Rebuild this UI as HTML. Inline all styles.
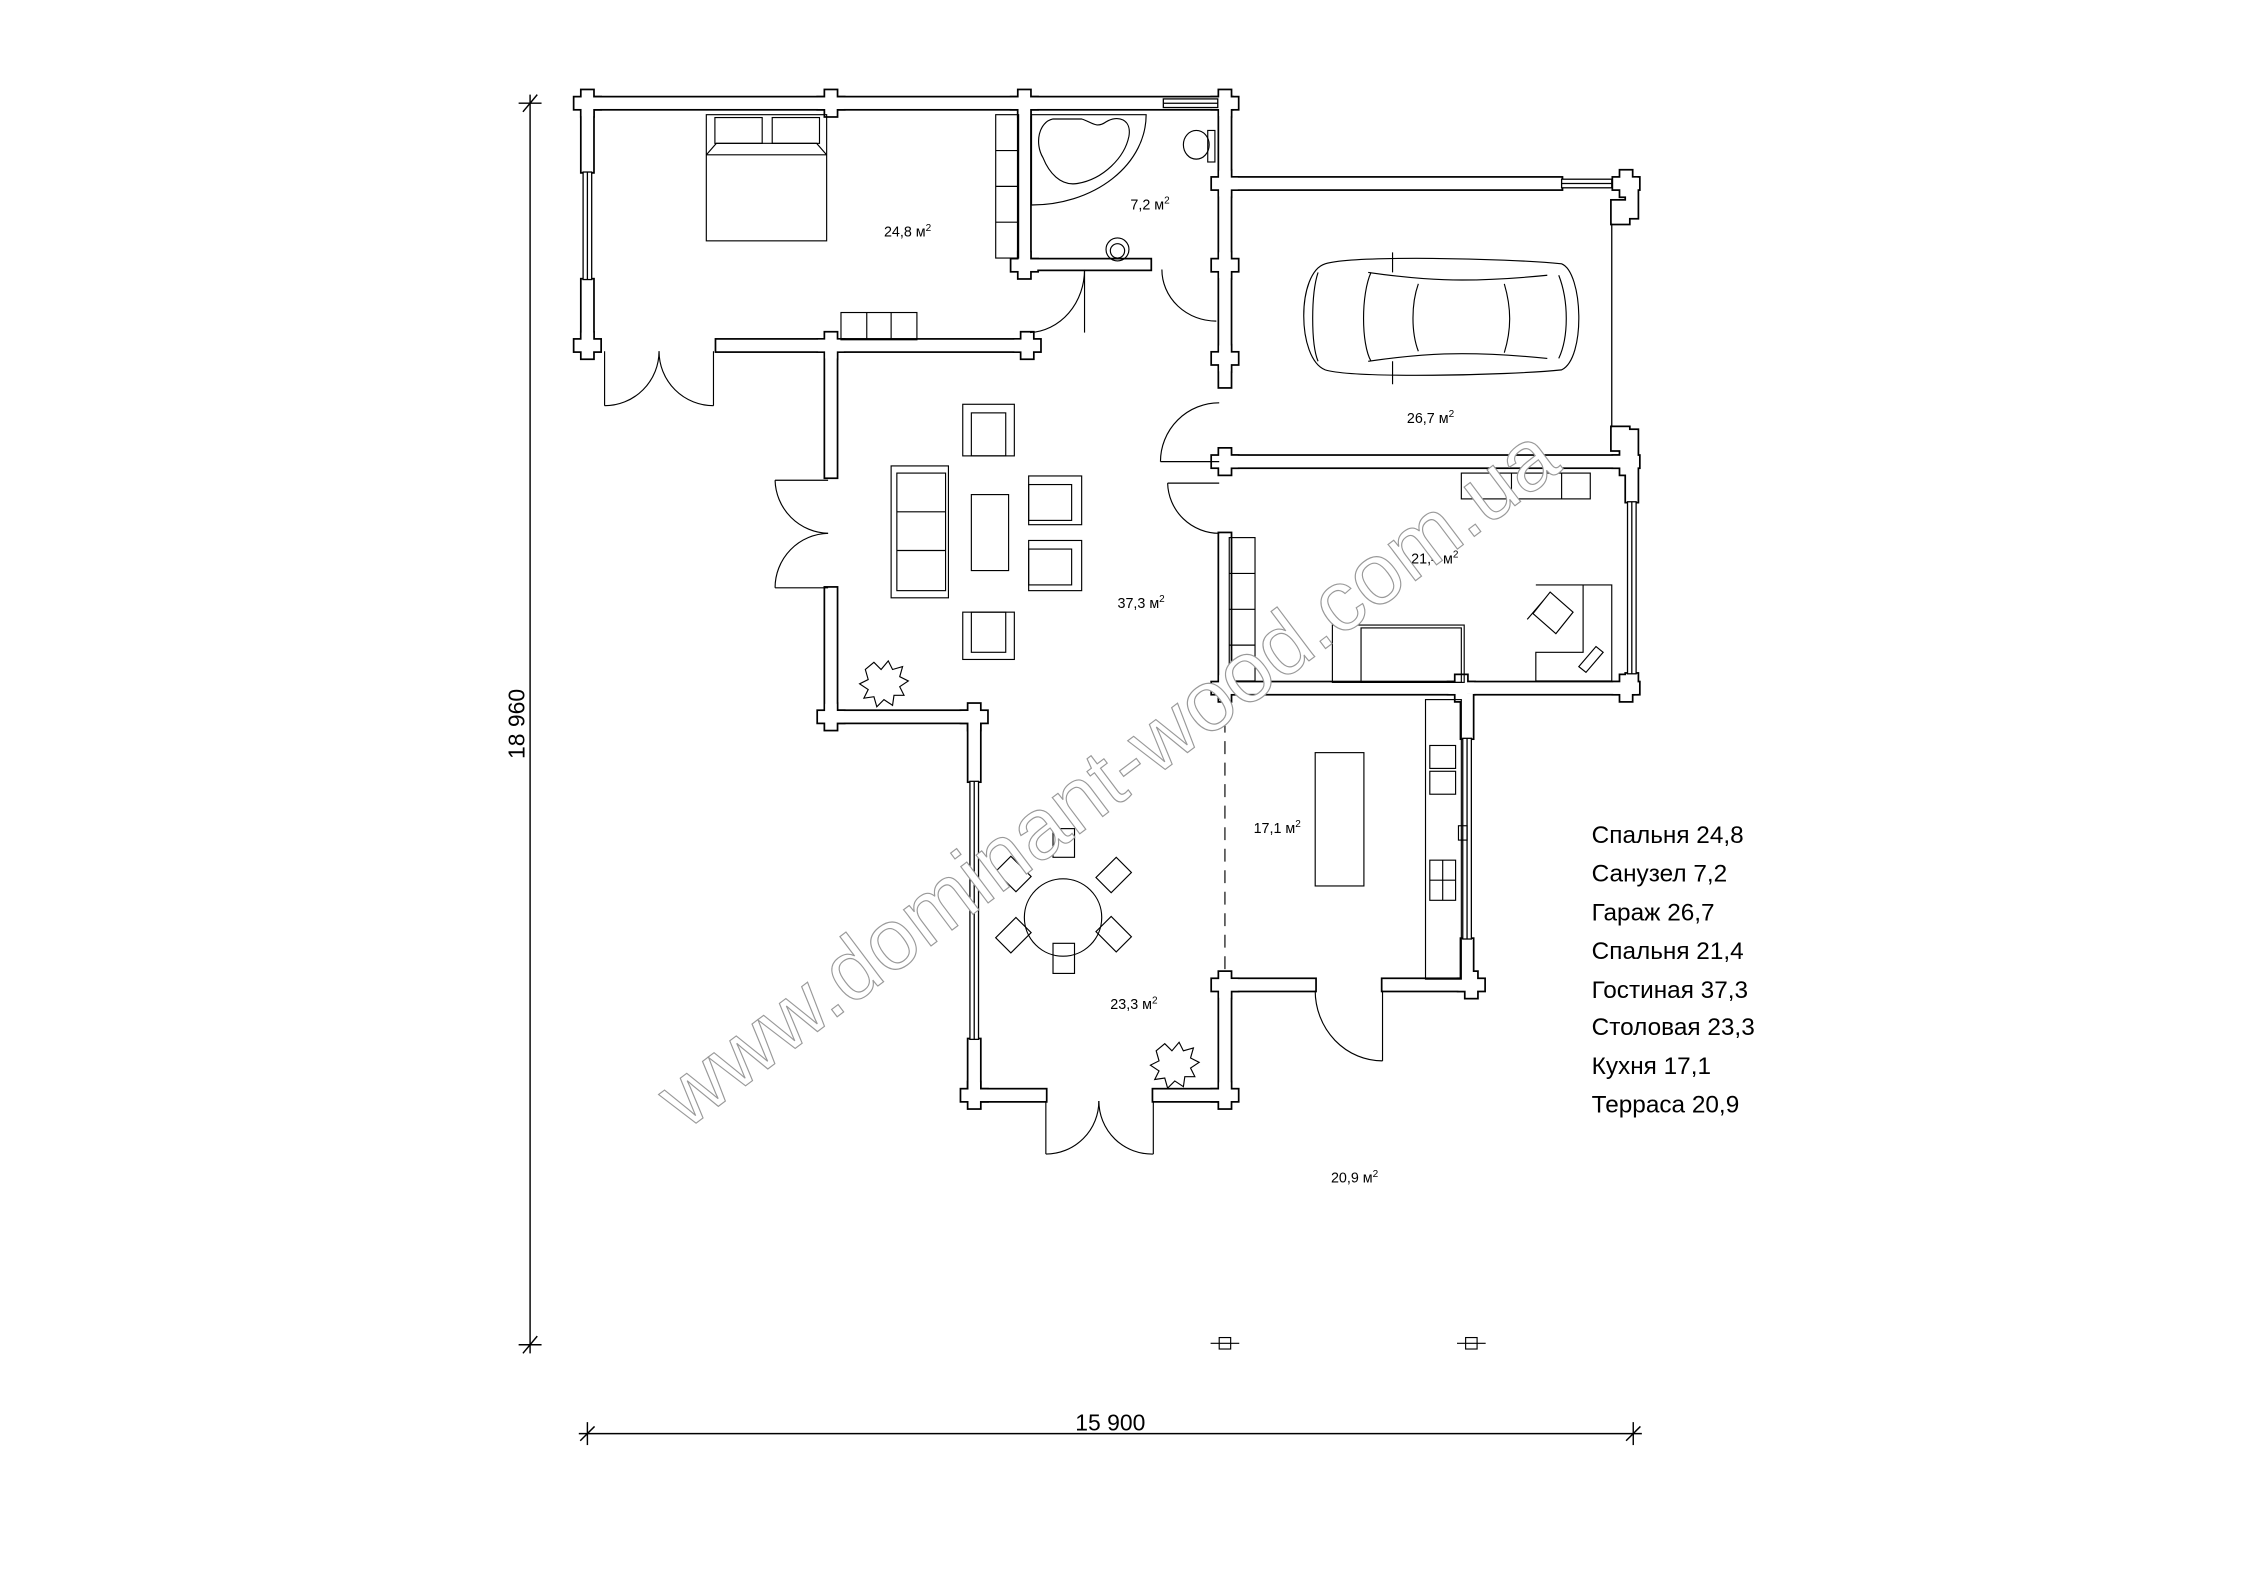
<!DOCTYPE html>
<html><head><meta charset="utf-8"><style>
html,body{margin:0;padding:0;background:#fff}
svg{display:block}
text{font-family:"Liberation Sans",sans-serif}
</style></head><body>
<svg width="2245" height="1587" viewBox="0 0 1567 1107" preserveAspectRatio="none" xmlns="http://www.w3.org/2000/svg" xmlns:xlink="http://www.w3.org/1999/xlink">
<defs>
<g id="cr"><rect x="-9" y="-4" width="18" height="8"/><rect x="-4" y="-9" width="8" height="18"/></g>
<g id="w">
<rect x="406" y="68" width="454" height="8"/>
<rect x="406" y="72" width="8" height="48"/><rect x="406" y="195" width="8" height="50"/>
<rect x="500" y="237" width="220" height="8"/>
<rect x="711" y="72" width="8" height="115"/><rect x="715" y="181" width="88" height="7"/>
<rect x="851" y="72" width="8" height="198"/>
<rect x="855" y="124" width="235" height="8"/>
<rect x="851" y="318" width="289" height="8"/>
<rect x="851" y="372" width="8" height="112"/>
<rect x="851" y="476" width="289" height="8"/>
<rect x="1135" y="124" width="8" height="28"/><rect x="1125" y="140" width="12" height="16"/>
<rect x="1135" y="300" width="8" height="50"/><rect x="1125" y="298" width="12" height="16"/>
<rect x="1135" y="470" width="8" height="14"/>
<rect x="576" y="241" width="8" height="92"/><rect x="576" y="410" width="8" height="94"/>
<rect x="576" y="496" width="108" height="8"/>
<rect x="676" y="500" width="8" height="45"/><rect x="676" y="725" width="8" height="41"/>
<rect x="676" y="760" width="54" height="8"/><rect x="805" y="760" width="54" height="8"/>
<rect x="851" y="685" width="8" height="80"/>
<rect x="855" y="683" width="63" height="8"/><rect x="965" y="683" width="63" height="8"/>
<rect x="1020" y="484" width="8" height="31"/><rect x="1020" y="655" width="8" height="32"/>
<use xlink:href="#cr" href="#cr" x="410" y="72"/><use xlink:href="#cr" href="#cr" x="580" y="72"/>
<use xlink:href="#cr" href="#cr" x="715" y="72"/><use xlink:href="#cr" href="#cr" x="855" y="72"/>
<use xlink:href="#cr" href="#cr" x="410" y="241"/><use xlink:href="#cr" href="#cr" x="580" y="241"/>
<use xlink:href="#cr" href="#cr" x="717" y="241"/><use xlink:href="#cr" href="#cr" x="715" y="185"/>
<use xlink:href="#cr" href="#cr" x="855" y="128"/><use xlink:href="#cr" href="#cr" x="855" y="185"/>
<use xlink:href="#cr" href="#cr" x="1135" y="128"/><use xlink:href="#cr" href="#cr" x="855" y="322"/>
<use xlink:href="#cr" href="#cr" x="1135" y="322"/><use xlink:href="#cr" href="#cr" x="855" y="480"/>
<use xlink:href="#cr" href="#cr" x="1020" y="480"/><use xlink:href="#cr" href="#cr" x="1135" y="480"/>
<use xlink:href="#cr" href="#cr" x="580" y="500"/><use xlink:href="#cr" href="#cr" x="680" y="500"/>
<use xlink:href="#cr" href="#cr" x="680" y="764"/><use xlink:href="#cr" href="#cr" x="855" y="764"/>
<use xlink:href="#cr" href="#cr" x="855" y="687"/><use xlink:href="#cr" href="#cr" x="1027" y="687"/>
<use xlink:href="#cr" href="#cr" x="855" y="250"/>
</g>
</defs>
<rect width="1567" height="1107" fill="#fff"/>
<g stroke="#000" stroke-width="1" fill="none">
<line x1="370" y1="66" x2="370" y2="944"/>
<line x1="362" y1="72" x2="378" y2="72"/><line x1="365" y1="78" x2="375" y2="66"/>
<line x1="362" y1="938" x2="378" y2="938"/><line x1="365" y1="944" x2="375" y2="932"/>
<line x1="404" y1="1000" x2="1146" y2="1000"/>
<line x1="410" y1="992" x2="410" y2="1008"/><line x1="405" y1="1005" x2="415" y2="995"/>
<line x1="1140" y1="992" x2="1140" y2="1008"/><line x1="1135" y1="1005" x2="1145" y2="995"/>
</g>
<text x="0" y="0" font-size="16" transform="translate(366,505) rotate(-90)" text-anchor="middle">18 960</text>
<text x="775" y="998" font-size="16" text-anchor="middle">15 900</text>

<use xlink:href="#w" href="#w" stroke="#000" stroke-width="2.4" fill="#000"/>
<use xlink:href="#w" href="#w" stroke="none" fill="#fff"/>

<g stroke="#000" stroke-width="0.9" fill="#fff">
<rect x="407" y="120" width="6" height="75"/><line x1="410" y1="120" x2="410" y2="195"/>
<rect x="1090" y="125" width="35" height="6"/><line x1="1090" y1="128" x2="1125" y2="128"/>
<rect x="812" y="69" width="38" height="6"/><line x1="812" y1="72" x2="850" y2="72"/>
<rect x="1136" y="350" width="6" height="120"/><line x1="1139" y1="350" x2="1139" y2="470"/>
<rect x="677" y="545" width="6" height="180"/><line x1="680" y1="545" x2="680" y2="725"/>
<rect x="1021" y="515" width="6" height="140"/><line x1="1024" y1="515" x2="1024" y2="655"/>
<line x1="1125" y1="156" x2="1125" y2="298" fill="none"/>
</g>
<g stroke="#000" stroke-width="0.8" fill="none">
<line x1="422" y1="245" x2="422" y2="283"/><path d="M422,283 A38,38 0 0,0 460,245"/>
<line x1="498" y1="245" x2="498" y2="283"/><path d="M498,283 A38,38 0 0,1 460,245"/>
<line x1="757" y1="188" x2="757" y2="232"/><path d="M757,188 A40,44 0 0,1 719,232"/>
<path d="M811,188 A38,36 0 0,0 849,224"/>
<line x1="810" y1="322" x2="851" y2="322"/><path d="M810,322 A41,41 0 0,1 851,281"/>
<line x1="815" y1="337" x2="851" y2="337"/><path d="M815,337 A36,36 0 0,0 851,372"/>
<line x1="541" y1="335" x2="578" y2="335"/><path d="M541,335 A38,38 0 0,0 578,372"/>
<line x1="541" y1="410" x2="578" y2="410"/><path d="M541,410 A38,38 0 0,1 578,372"/>
<line x1="730" y1="768" x2="730" y2="805"/><path d="M730,805 A37,37 0 0,0 767,768"/>
<line x1="805" y1="768" x2="805" y2="805"/><path d="M805,805 A37,37 0 0,1 767,768"/>
<line x1="965" y1="691" x2="965" y2="740"/><path d="M918,691 A47,49 0 0,0 965,740"/>
<line x1="855" y1="502" x2="855" y2="682" stroke-dasharray="9,6"/>
<rect x="851" y="933" width="8" height="8"/><line x1="845" y1="937" x2="865" y2="937"/>
<rect x="1023" y="933" width="8" height="8"/><line x1="1017" y1="937" x2="1037" y2="937"/>
<rect x="493" y="80" width="84" height="88"/>
<rect x="499" y="82" width="33" height="18"/><rect x="539" y="82" width="33" height="18"/>
<path d="M493,108 L500,100 L570,100 L577,108"/><line x1="493" y1="108" x2="577" y2="108"/>
<rect x="695" y="80" width="16" height="100"/><line x1="695" y1="105" x2="711" y2="105"/><line x1="695" y1="130" x2="711" y2="130"/><line x1="695" y1="155" x2="711" y2="155"/>
<rect x="587" y="218" width="53" height="19"/><line x1="605" y1="218" x2="605" y2="237"/><line x1="622" y1="218" x2="622" y2="237"/>
<path d="M720,80 L800,80 A80,63 0 0,1 720,143 Z"/>
<path d="M735,83 C725,85 722,100 728,110 C732,120 740,130 752,128 C770,125 785,110 788,95 C790,83 780,80 772,85 C765,90 762,85 755,83 Z"/>
<ellipse cx="835" cy="101" rx="9" ry="10"/><rect x="843" y="91" width="5" height="22"/>
<ellipse cx="780" cy="174" rx="8" ry="8"/><ellipse cx="780" cy="175" rx="5" ry="5"/>
<path d="M925,184 C945,178 1050,180 1090,184 C1105,190 1107,250 1090,258 C1050,262 945,264 925,258 C905,250 905,190 925,184 Z"/>
<path d="M955,190 C990,195 1020,198 1080,192 M955,252 C990,247 1020,244 1080,250"/>
<path d="M957,190 C950,205 950,240 957,252 M990,198 C985,212 985,232 990,245 M1050,198 C1055,215 1055,230 1050,246 M1088,192 C1095,210 1095,235 1088,250"/>
<path d="M920,190 C915,205 915,240 920,252 M972,176 L972,190 M972,252 L972,268"/>
<rect x="672" y="282" width="36" height="36"/><rect x="678" y="288" width="24" height="30"/>
<rect x="622" y="325" width="40" height="92"/><rect x="626" y="330" width="34" height="82"/><line x1="626" y1="357" x2="660" y2="357"/><line x1="626" y1="384" x2="660" y2="384"/>
<rect x="678" y="345" width="26" height="53"/>
<rect x="718" y="332" width="37" height="34"/><rect x="718" y="338" width="30" height="25"/>
<rect x="718" y="377" width="37" height="35"/><rect x="718" y="383" width="30" height="25"/>
<rect x="672" y="427" width="36" height="33"/><rect x="678" y="427" width="24" height="28"/>
<path d="M610,462 l5,5 l5,-6 l3,6 l7,-2 l-2,7 l6,3 l-6,4 l3,6 l-7,0 l-1,7 l-6,-4 l-5,5 l-2,-7 l-7,1 l3,-6 l-6,-4 l6,-3 l-2,-7 z"/>
<path d="M813,728 l5,5 l5,-6 l3,6 l7,-2 l-2,7 l6,3 l-6,4 l3,6 l-7,0 l-1,7 l-6,-4 l-5,5 l-2,-7 l-7,1 l3,-6 l-6,-4 l6,-3 l-2,-7 z"/>
<rect x="1020" y="330" width="90" height="18"/><line x1="1055" y1="330" x2="1055" y2="348"/><line x1="1090" y1="330" x2="1090" y2="348"/>
<rect x="858" y="375" width="18" height="100"/><line x1="858" y1="400" x2="876" y2="400"/><line x1="858" y1="425" x2="876" y2="425"/><line x1="858" y1="450" x2="876" y2="450"/>
<rect x="930" y="436" width="92" height="40"/><rect x="950" y="438" width="70" height="38"/>
<path d="M1072,408 L1125,408 L1125,475 L1072,475 L1072,455 L1105,455 L1105,408"/>
<path d="M1070,428 l12,-15 l16,14 l-12,15 z M1066,432 l12,-14"/>
<path d="M1102,465 l12,-14 l5,4 l-12,14 z"/>
<rect x="995" y="488" width="25" height="195"/>
<rect x="998" y="520" width="18" height="16"/><rect x="998" y="538" width="18" height="16"/>
<rect x="998" y="600" width="18" height="28"/><line x1="998" y1="614" x2="1016" y2="614"/><line x1="1007" y1="600" x2="1007" y2="628"/>
<rect x="1018" y="576" width="6" height="10"/>
<rect x="918" y="525" width="34" height="93"/>
<circle cx="742" cy="640" r="27"/>
<rect x="735" y="578" width="15" height="20"/><rect x="735" y="658" width="15" height="21"/>
<rect x="700" y="600" width="15" height="20" transform="rotate(-45 707 610)"/>
<rect x="770" y="600" width="15" height="20" transform="rotate(45 777 610)"/>
<rect x="700" y="642" width="15" height="20" transform="rotate(45 707 652)"/>
<rect x="770" y="642" width="15" height="20" transform="rotate(-45 777 652)"/>
</g>

<g font-size="10" fill="#000">
<text x="617" y="165">24,8 м<tspan font-size="7" dy="-4">2</tspan></text>
<text x="789" y="146">7,2 м<tspan font-size="7" dy="-4">2</tspan></text>
<text x="982" y="295">26,7 м<tspan font-size="7" dy="-4">2</tspan></text>
<text x="985" y="393">21,4 м<tspan font-size="7" dy="-4">2</tspan></text>
<text x="780" y="424">37,3 м<tspan font-size="7" dy="-4">2</tspan></text>
<text x="875" y="581">17,1 м<tspan font-size="7" dy="-4">2</tspan></text>
<text x="775" y="704">23,3 м<tspan font-size="7" dy="-4">2</tspan></text>
<text x="929" y="825">20,9 м<tspan font-size="7" dy="-4">2</tspan></text>
</g>
<g font-size="17" fill="#000">
<text x="1111" y="588">Спальня 24,8</text>
<text x="1111" y="615">Санузел 7,2</text>
<text x="1111" y="642">Гараж 26,7</text>
<text x="1111" y="669">Спальня 21,4</text>
<text x="1111" y="696">Гостиная 37,3</text>
<text x="1111" y="722">Столовая 23,3</text>
<text x="1111" y="749">Кухня 17,1</text>
<text x="1111" y="776">Терраса 20,9</text>
</g>
<text x="0" y="0" font-size="60" fill="#fff" stroke="#999" stroke-width="0.8" text-anchor="middle" transform="translate(785,558) rotate(-37)">www.dominant-wood.com.ua</text>
</svg>
</body></html>
